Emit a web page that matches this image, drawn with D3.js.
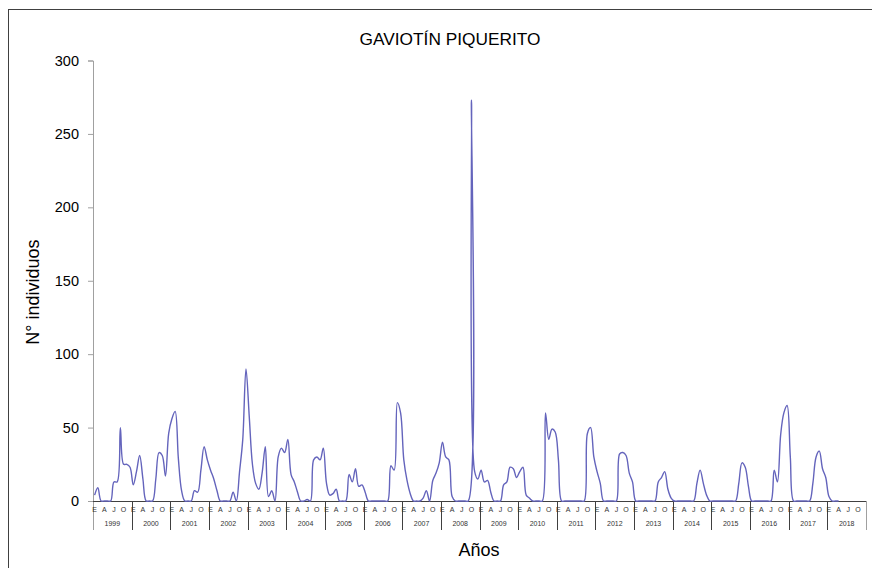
<!DOCTYPE html>
<html>
<head>
<meta charset="utf-8">
<script src="https://cdn.jsdelivr.net/npm/d3@7"></script>
<style>
  html, body { margin: 0; padding: 0; background: #fff; }
  svg { display: block; font-family: "Liberation Sans", Arial, sans-serif; }
</style>
</head>
<body>
<svg id="chart" width="872" height="568"></svg>
<script>
const title = "GAVIOTÍN PIQUERITO";
const yTitle = "N° individuos";
const xTitle = "Años";
const years = [1999,2000,2001,2002,2003,2004,2005,2006,2007,2008,2009,2010,2011,2012,2013,2014,2015,2016,2017,2018];
const monthLabels = ["E","","","A","","","J","","","O","",""];
const yTicks = [0,50,100,150,200,250,300];
// monthly counts, Jan 1999 onward
const individuos = [
  4, 9, 0, 0, 0, 0, 13, 13, 50, 25, 25, 23,      // 1999
  11, 20, 31, 15, 0, 0, 0, 15, 33, 31, 17, 46,   // 2000
  56, 61, 29, 7, 0, 0, 0, 7, 6, 21, 37, 28,      // 2001
  21, 15, 7, 0, 0, 0, 0, 6, 0, 20, 42, 90,       // 2002
  58, 25, 12, 8, 19, 37, 3, 7, 0, 30, 36, 33,    // 2003
  42, 18, 13, 6, 0, 0, 1, 0, 28, 30, 28, 36,     // 2004
  12, 4, 5, 8, 0, 0, 0, 18, 13, 22, 10, 11,      // 2005
  6, 0, 0, 0, 0, 0, 0, 0, 24, 21, 67, 60,        // 2006
  28, 14, 5, 0, 0, 0, 2, 7, 0, 14, 19, 26,       // 2007
  40, 30, 28, 3, 0, 0, 0, 0, 0, 273, 20, 15,     // 2008
  21, 13, 14, 6, 0, 0, 0, 11, 13, 23, 22, 16,    // 2009
  20, 23, 4, 2, 0, 0, 0, 0, 60, 42, 49, 47,      // 2010
  28, 0, 0, 0, 0, 0, 0, 0, 0, 46, 50, 30,        // 2011
  20, 12, 0, 0, 0, 0, 0, 32, 33, 31, 19, 13,     // 2012
  0, 0, 0, 0, 0, 0, 0, 13, 16, 20, 8, 2,         // 2013
  0, 0, 0, 0, 0, 0, 0, 12, 21, 12, 4, 0,         // 2014
  0, 0, 0, 0, 0, 0, 0, 0, 12, 26, 23, 10,        // 2015
  0, 0, 0, 0, 0, 0, 0, 21, 13, 45, 60, 65,       // 2016
  30, 0, 0, 0, 0, 0, 0, 12, 30, 34, 22, 16,      // 2017
  3, 0, 0, 0                                     // 2018
];

(function () {
const svg = d3.select("#chart");
const plotLeft = 93, plotRight = 866, plotTop = 60.5, plotBottom = 501;

// outer frame
svg.append("rect").attr("x", 8.5).attr("y", 9.5).attr("width", 900).attr("height", 600)
  .attr("fill", "none").attr("stroke", "#404040").attr("stroke-width", 1);

const nMonths = years.length * 12;
const x = d3.scaleBand().domain(d3.range(nMonths)).range([plotLeft, plotRight]).padding(0);
const xc = i => x(i) + x.bandwidth() / 2;
const y = d3.scaleLinear().domain([0, 300]).range([plotBottom, plotTop]);

// y axis
const yAxis = d3.axisLeft(y).tickValues(yTicks).tickSize(5).tickPadding(9);
const ya = svg.append("g").attr("transform", `translate(${plotLeft},0)`).call(yAxis);
ya.select(".domain").attr("stroke", "#a0a0a0");
ya.selectAll(".tick line").attr("stroke", "#a0a0a0");
ya.selectAll(".tick text").attr("font-size", 14.5).attr("fill", "#000")
  .attr("font-family", "Liberation Sans, Arial, sans-serif");

// year separators
const yearScale = d3.scaleBand().domain(years).range([plotLeft, plotRight]);
svg.append("g").selectAll("line").data(years.concat(["end"])).join("line")
  .attr("x1", (d, i) => Math.round(plotLeft + i * yearScale.bandwidth()) + 0.5)
  .attr("x2", (d, i) => Math.round(plotLeft + i * yearScale.bandwidth()) + 0.5)
  .attr("y1", plotBottom).attr("y2", 530)
  .attr("stroke", (d, i) => (i === 0 || i === years.length) ? "#a0a0a0" : "#404040")
  .attr("stroke-width", 1);

// month labels
const monthTicks = d3.range(nMonths).filter(i => monthLabels[i % 12] !== "");
svg.append("g").selectAll("text").data(monthTicks).join("text")
  .attr("x", i => xc(i)).attr("y", 512)
  .attr("text-anchor", "middle").attr("font-size", 7).attr("fill", "#333")
  .text(i => monthLabels[i % 12]);

// year labels
svg.append("g").selectAll("text").data(years).join("text")
  .attr("x", d => yearScale(d) + yearScale.bandwidth() / 2).attr("y", 526)
  .attr("text-anchor", "middle").attr("font-size", 7).attr("fill", "#333")
  .text(d => d);

// x axis line
svg.append("line").attr("x1", plotLeft).attr("x2", plotRight)
  .attr("y1", plotBottom + 0.5).attr("y2", plotBottom + 0.5)
  .attr("stroke", "#404040").attr("stroke-width", 1);

// clip
svg.append("clipPath").attr("id", "clip").append("rect")
  .attr("x", plotLeft).attr("y", 0).attr("width", plotRight - plotLeft).attr("height", plotBottom + 1);

const line = d3.line().x((d, i) => xc(i)).y(d => y(d)).curve(d3.curveCatmullRom.alpha(0.5));
svg.append("path").datum(individuos).attr("clip-path", "url(#clip)")
  .attr("d", line).attr("fill", "none").attr("stroke", "#6464bc").attr("stroke-width", 1.4);

// titles
svg.append("text").attr("x", 450).attr("y", 45).attr("text-anchor", "middle")
  .attr("font-size", 17.3).attr("fill", "#000").text(title);
svg.append("text").attr("transform", "translate(39,292) rotate(-90)").attr("text-anchor", "middle")
  .attr("font-size", 18).attr("fill", "#000").text(yTitle);
svg.append("text").attr("x", 479).attr("y", 556).attr("text-anchor", "middle")
  .attr("font-size", 18).attr("fill", "#000").text(xTitle);
})();
</script>
</body>
</html>
